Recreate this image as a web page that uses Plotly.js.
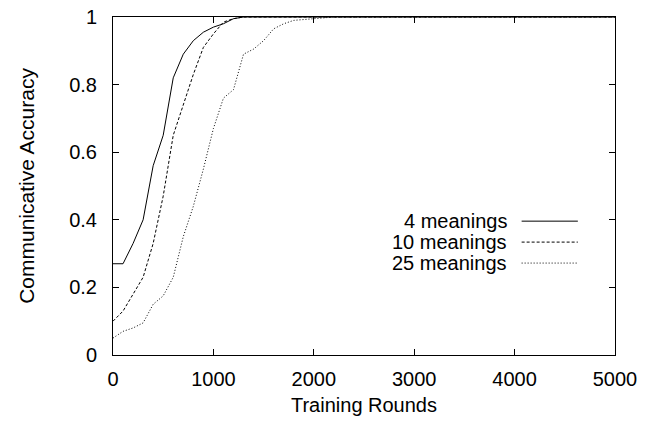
<!DOCTYPE html>
<html>
<head>
<meta charset="utf-8">
<script src="https://cdn.plot.ly/plotly-3.0.1.min.js"></script>
<style>html,body{margin:0;padding:0;background:#fff;}#chart{width:648px;height:423px;}</style>
</head>
<body>
<div id="chart"></div>
<script>
// Training rounds (x) and communicative accuracy per series
const rounds = [0,100,200,300,400,500,600,700,800,900,1000,1100,1200,1300,1400,1500,1600,1700,1800,1900,2000,2100,2200,2300,5000];
const acc4 = [0.27,0.27,0.33,0.40,0.56,0.65,0.82,0.89,0.93,0.955,0.97,0.98,0.995,1,1,0.999,1,1,1,1,1,1,1,1,1];
const acc10 = [0.10,0.13,0.18,0.23,0.33,0.47,0.65,0.74,0.83,0.91,0.95,0.985,0.995,1,1,1,1,1,1,1,1,1,1,1,1];
const acc25 = [0.05,0.07,0.08,0.095,0.15,0.175,0.23,0.35,0.44,0.55,0.67,0.76,0.785,0.89,0.905,0.93,0.965,0.98,0.99,0.993,0.996,0.998,1,1,1];
const seriesNames = ["4 meanings","10 meanings","25 meanings"];
const xTicks = [0,1000,2000,3000,4000,5000];
const yTicks = [0,0.2,0.4,0.6,0.8,1];
const yTickText = ["0","0.2","0.4","0.6","0.8","1"];

const dashes = ["solid","3px,2px","1px,2px"];
const series = [acc4, acc10, acc25];
const font = {family: "Liberation Sans, Arial, sans-serif", size: 20, color: "#000"};

const traces = series.map((ys, i) => ({
  x: rounds, y: ys, type: "scatter", mode: "lines", name: seriesNames[i],
  line: {color: "#000", width: 1, dash: dashes[i]}, showlegend: false, cliponaxis: true
}));

// Gnuplot-style legend: text on the left, line sample on the right
const legendY = [0.396, 0.334, 0.272];
const annotations = seriesNames.map((n, i) => ({
  xref: "paper", yref: "paper", x: 0.787, y: legendY[i], xanchor: "right", yanchor: "middle",
  text: n, showarrow: false, font: font, borderpad: 0
}));
const shapes = seriesNames.map((n, i) => ({
  type: "line", xref: "paper", yref: "paper", x0: 0.814, x1: 0.926, y0: legendY[i], y1: legendY[i],
  line: {color: "#000", width: 1, dash: dashes[i]}
}));

const layout = {
  width: 648, height: 423,
  margin: {l: 113, r: 33, t: 17, b: 68},
  paper_bgcolor: "#fff", plot_bgcolor: "#fff",
  font: font,
  showlegend: false,
  xaxis: {
    range: [0, 5000], tickvals: xTicks, ticks: "inside", ticklen: 6, tickcolor: "#000",
    showline: true, linecolor: "#000", linewidth: 1, mirror: "ticks", showgrid: false, zeroline: false,
    ticklabelstandoff: 6,
    title: {text: "Training Rounds", font: font, standoff: 8}
  },
  yaxis: {
    range: [0, 1], tickvals: yTicks, ticktext: yTickText, ticks: "inside", ticklen: 6, tickcolor: "#000",
    showline: true, linecolor: "#000", linewidth: 1, mirror: "ticks", showgrid: false, zeroline: false,
    ticklabelstandoff: 11,
    title: {text: "Communicative Accuracy", font: {family: font.family, size: 21, color: "#000"}, standoff: 28}
  },
  annotations: annotations,
  shapes: shapes
};

Plotly.newPlot("chart", traces, layout, {displayModeBar: false, staticPlot: true});
</script>
</body>
</html>
